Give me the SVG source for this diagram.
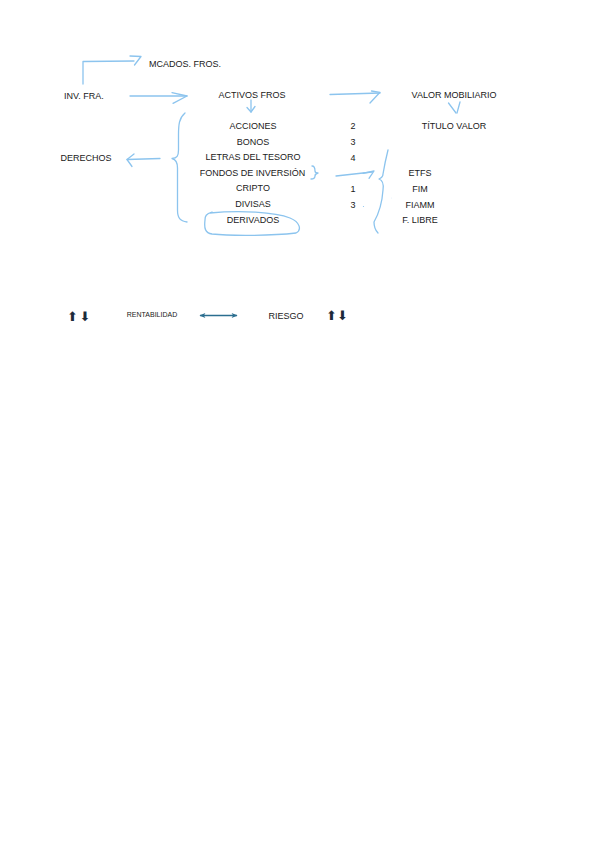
<svg xmlns="http://www.w3.org/2000/svg" width="599" height="848" viewBox="0 0 599 848">
<style>
text{font-family:"Liberation Sans",Arial,sans-serif;font-size:9px;fill:#1a1a1a}
.c{text-anchor:middle}
.ink{fill:none;stroke:#8cc4ee;stroke-width:1.3;stroke-linecap:round;stroke-linejoin:round}
.arr{font-family:"DejaVu Sans",sans-serif;font-size:13px;fill:#1c2b3a}
</style>
<defs>
<marker id="ah" viewBox="0 0 10 10" refX="9" refY="5" markerWidth="7" markerHeight="6" orient="auto-start-reverse" markerUnits="userSpaceOnUse">
<path d="M0,1 L10,5 L0,9 L2.5,5 Z" fill="#2b6e8f"/>
</marker>
</defs>
<rect width="599" height="848" fill="#ffffff"/>
<g id="connectors">
<path class="ink" d="M83,84 L83,61.5 L134,61"/>
<path class="ink" d="M130,56 L141,56.5 L134.5,65"/>
<path class="ink" d="M130,96 L187,96"/>
<path class="ink" d="M172,92.7 L187,96 L173,103.3"/>
<path class="ink" d="M251,100 L251,112"/>
<path class="ink" d="M247,107.5 L251,112 L255,106.5"/>
<path class="ink" d="M330,94.5 L380,93"/>
<path class="ink" d="M371.5,91 L380,92.3 L370,103"/>
<path class="ink" d="M448.5,103 L456,113"/>
<path class="ink" d="M460,102 L457,113"/>
<path class="ink" d="M185,113 C179,118 178.5,125 178.5,135 L178.5,150 C178.5,156 177,158 172,158.5 C176,159.5 177.5,162 177.5,168 L177.5,210 C177.5,218 180,221 187,222"/>
<path class="ink" d="M160,158.5 L127,159.5"/>
<path class="ink" d="M134,154 L127,159.5 L132,166.5"/>
<path class="ink" d="M312,166 C315,166 315,169 315,171 C315,172 316,173 318,173 C316,173.5 315,174.5 315,176 C315,178 314,179 311,179"/>
<path class="ink" d="M336,176 L372,172"/>
<path class="ink" d="M363,173.3 L374,171 L369,178.3"/>
<path class="ink" d="M388,150 C386,158 384,168 383,174 C383,177 381.5,178 379,179 C382,180 384,183 383,190 C382,205 378,215 374,222 C374,228 376,231 378,233"/>
<path class="ink" d="M210,213 C240,210 275,212 290,218 C300,222 302,230 296,233 C270,236 230,236 212,234 C205,233 204,228 205,220 C205,216 206,214 212,212"/>
<circle cx="363.5" cy="206.5" r="0.6" fill="#8cc4ee"/>
<circle cx="391.5" cy="198" r="0.4" fill="#cfe4f4"/>
<line x1="200" y1="315.5" x2="237" y2="315.5" stroke="#2b6e8f" stroke-width="1.6" marker-start="url(#ah)" marker-end="url(#ah)"/>
</g>
<g id="n-mcados"><text x="149" y="66.5">MCADOS. FROS.</text></g>
<g id="n-inv"><text x="64" y="98.5">INV. FRA.</text></g>
<g id="n-activos"><text class="c" x="252" y="97.5">ACTIVOS FROS</text></g>
<g id="n-valor"><text class="c" x="454" y="97.5">VALOR MOBILIARIO</text></g>
<g id="n-titulo"><text class="c" x="454" y="128.5">TÍTULO VALOR</text></g>
<g id="n-list">
<text class="c" x="253" y="128.5">ACCIONES</text>
<text class="c" x="253" y="144.5">BONOS</text>
<text class="c" x="253" y="159.5">LETRAS DEL TESORO</text>
<text class="c" x="252.5" y="175.5">FONDOS DE INVERSIÓN</text>
<text class="c" x="253" y="191">CRIPTO</text>
<text class="c" x="253" y="207">DIVISAS</text>
<text class="c" x="253" y="222.5">DERIVADOS</text>
</g>
<g id="n-derechos"><text class="c" x="86" y="160.5">DERECHOS</text></g>
<g id="n-nums">
<text class="c" x="353" y="129">2</text>
<text class="c" x="353" y="144.5">3</text>
<text class="c" x="353" y="160.5">4</text>
<text class="c" x="353" y="191.5">1</text>
<text class="c" x="353" y="207.5">3</text>
</g>
<g id="n-fondos">
<text class="c" x="420" y="176">ETFS</text>
<text class="c" x="420" y="191.5">FIM</text>
<text class="c" x="420" y="207.5">FIAMM</text>
<text class="c" x="420" y="222.5">F. LIBRE</text>
</g>
<g id="n-rent"><text class="c" x="152" y="317" style="font-size:7px">RENTABILIDAD</text></g>
<g id="n-riesgo"><text class="c" x="286" y="318.5">RIESGO</text></g>
<g id="n-arrows1"><text class="arr" x="67" y="320.5" letter-spacing="1.5">⬆⬇</text></g>
<g id="n-arrows2"><text class="arr" x="326" y="320">⬆⬇</text></g>
</svg>
